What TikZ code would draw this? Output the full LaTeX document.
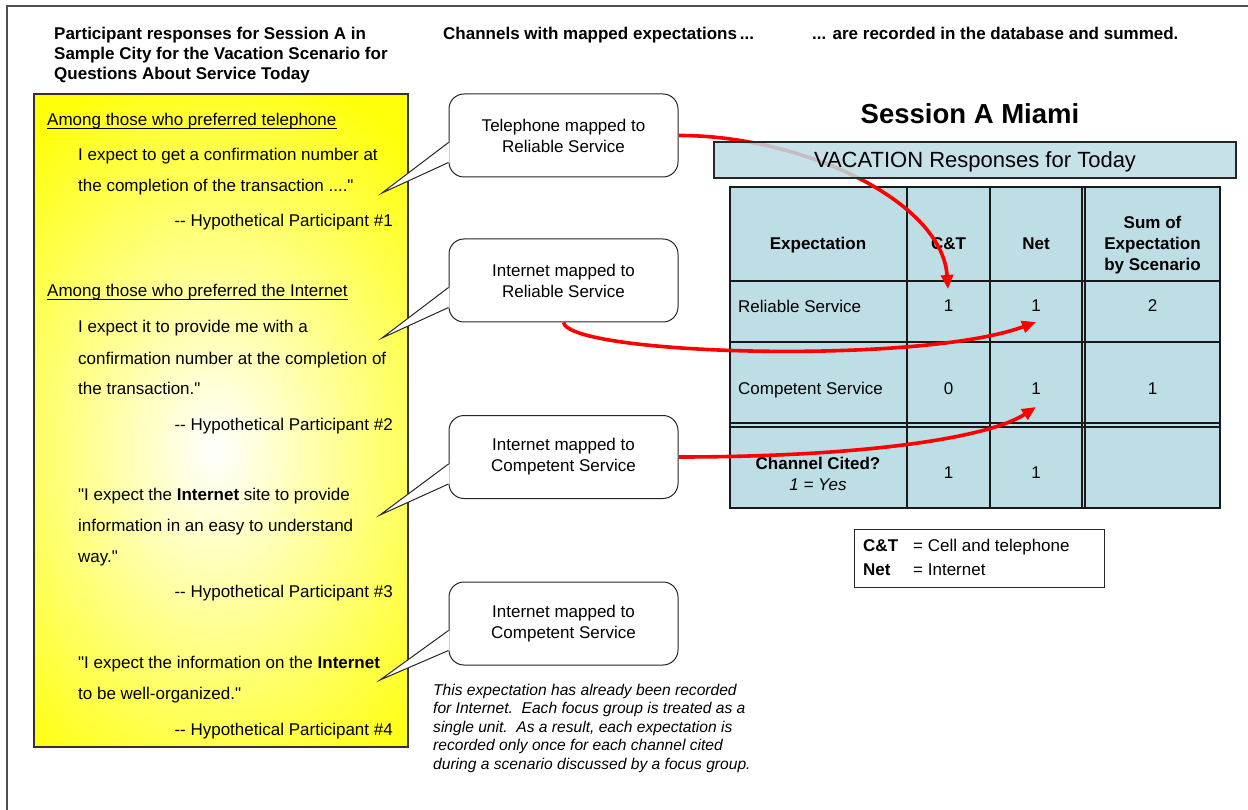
\documentclass[tikz,border=0pt]{standalone}
\usepackage{fontspec}
\setmainfont{Liberation Sans}[Ligatures=TeXOff]
\usetikzlibrary{arrows.meta,calc}
\newcommand\bsz{\fontsize{17}{21}\selectfont}
\newcommand\notesz{\fontsize{15.6}{18.5}\selectfont}
\definecolor{tblue}{RGB}{189,222,228}
\definecolor{ylw}{RGB}{255,255,10}
\definecolor{frame}{RGB}{80,80,80}
\begin{document}
\begin{tikzpicture}[x=1pt,y=-1pt,
  txt/.style={inner sep=0pt, anchor=base west, font=\bsz},
  txtr/.style={inner sep=0pt, anchor=base east, font=\bsz},
  txtc/.style={inner sep=0pt, anchor=base, font=\bsz},
  thd/.style={inner sep=0pt, anchor=base, font=\bsz\bfseries},
  hdr/.style={inner sep=0pt, anchor=base west, font=\bsz\bfseries},
  note/.style={inner sep=0pt, anchor=base west, font=\notesz\itshape},
  callout/.style={draw=black!85, line width=1pt, fill=white, rounded corners=15pt,
    minimum width=229pt, minimum height=83pt, inner sep=0pt, align=center, font=\bsz},
  tail/.style={draw=black!85, line width=1pt, line join=miter},
  redarrow/.style={draw=red, line width=3.6pt, -{Triangle[length=14pt,width=12pt]}},
  grid/.style={draw=black!90, line width=1.2pt},
]
\useasboundingbox (0,0) rectangle (1248,810);
\fill[white] (0,0) rectangle (1248,810);
% frame
\draw[frame, line width=2pt] (7,810) -- (7,6.5) -- (1248,6.5);

% headers
\node[hdr] (h1) at (54,40) {Participant responses for Session A in};
\node[hdr] (h2) at (54,60) {Sample City for the Vacation Scenario for};
\node[hdr] (h3) at (54,80) {Questions About Service Today};
\node[hdr] (h4) at (443,40) {Channels with mapped expectations\,...};
\node[hdr] (h5) at (812,40) {... are recorded in the database and summed.};

% yellow box
\begin{scope}
  \clip (34,94) rectangle (408,747);
  \fill[ylw] (34,94) rectangle (408,747);
  \shade[inner color=white, outer color=ylw] (215,450) ellipse [x radius=290, y radius=400];
\end{scope}
\draw[black!80, line width=1.2pt] (34,94) rectangle (408,747);

\node[txt] (q1a) at (47,126) {Among those who preferred telephone};
\draw[line width=0.8pt] ($(q1a.base west)+(0,2.5)$) -- ($(q1a.base east)+(0,2.5)$);
\node[txt] (q1b) at (78,161) {I expect to get a confirmation number at};
\node[txt] (q1c) at (78,192) {the completion of the transaction ...."};
\node[txtr] (q1d) at (393,227) {-- Hypothetical Participant \#1};
\node[txt] (q2a) at (47,297) {Among those who preferred the Internet};
\draw[line width=0.8pt] ($(q2a.base west)+(0,2.5)$) -- ($(q2a.base east)+(0,2.5)$);
\node[txt] (q2b) at (78,333) {I expect it to provide me with a};
\node[txt] (q2c) at (78,364) {confirmation number at the completion of};
\node[txt] (q2d) at (78,395) {the transaction."};
\node[txtr] (q2e) at (393,430) {-- Hypothetical Participant \#2};
\node[txt] (q3a) at (78,500) {"I expect the \textbf{Internet} site to provide};
\node[txt] (q3b) at (78,531) {information in an easy to understand};
\node[txt] (q3c) at (78,562) {way."};
\node[txtr] (q3d) at (393,597) {-- Hypothetical Participant \#3};
\node[txt] (q4a) at (78,668) {"I expect the information on the \textbf{Internet}};
\node[txt] (q4b) at (78,699) {to be well-organized."};
\node[txtr] (q4c) at (393,735) {-- Hypothetical Participant \#4};

% callouts
\node[callout] (c1) at (563.5,135.5) {Telephone mapped to\\Reliable Service};
\node[callout] (c2) at (563.5,280.5) {Internet mapped to\\Reliable Service};
\node[callout] (c3) at (563.5,457) {Internet mapped to\\Competent Service};
\node[callout] (c4) at (563.5,623.5) {Internet mapped to\\Competent Service};
\coordinate (t1) at (382,193);
\coordinate (t2) at (382,338);
\coordinate (t3) at (380,515);
\coordinate (t4) at (380,680);
\foreach \c/\t in {c1/t1,c2/t2,c3/t3,c4/t4}{
  \fill[white] ($(\c.west)+(1.2,7)$) -- (\t) -- ($(\c.west)+(1.2,27)$) -- cycle;
  \draw[tail] ($(\c.west)+(0,7)$) -- (\t) -- ($(\c.west)+(0,27)$);
}

% title
\node[inner sep=0pt, font=\fontsize{27.5}{30}\selectfont\bfseries] (title) at (970,113.5) {Session A Miami};

% table
\fill[tblue] (730,187) rectangle (1220,508);
\draw[grid] (730,187) rectangle (1220,508);
\draw[grid] (730,281) -- (1220,281);
\draw[grid] (730,342) -- (1220,342);
\draw[grid, line width=2pt] (730,423) -- (1220,423);
\draw[grid] (730,427) -- (1220,427);
\draw[grid] (907,187) -- (907,508);
\draw[grid] (990,187) -- (990,508);
\draw[grid] (1082,187) -- (1082,508);
\draw[grid] (1085,187) -- (1085,508);

\node[thd] (th1) at (818,250) {Expectation};
\node[thd] (th2) at (948.5,250) {C\&T};
\node[thd] (th3) at (1036,250) {Net};
\node[thd] (th4a) at (1152.5,229) {Sum of};
\node[thd] (th4b) at (1152.5,250) {Expectation};
\node[thd] (th4c) at (1152.5,271) {by Scenario};
\node[txt] (r1) at (738,313) {Reliable Service};
\node[txtc] (v11) at (948.5,312) {1};
\node[txtc] (v12) at (1036,312) {1};
\node[txtc] (v13) at (1152.5,312) {2};
\node[txt] (r2) at (738,395) {Competent Service};
\node[txtc] (v21) at (948.5,394) {0};
\node[txtc] (v22) at (1036,394) {1};
\node[txtc] (v23) at (1152.5,394) {1};
\node[thd] (r3) at (818,469) {Channel Cited?};
\node[txtc] (r3b) at (818,490) {\itshape 1 = Yes};
\node[txtc] (v31) at (948.5,478) {1};
\node[txtc] (v32) at (1036,478) {1};

% arrow 1 (partly under the banner)
\coordinate (e1) at (948,289);
\draw[redarrow] (c1.east) .. controls (800,135) and (942,200) .. (e1);

% banner
\node[draw=black!85, line width=1.2pt, fill=tblue, fill opacity=0.85,
  minimum width=522pt, minimum height=36pt, inner sep=0pt] (banner) at (975,160) {};
\node[inner sep=0pt, anchor=base, font=\fontsize{22}{26}\selectfont] (bt) at (975,168) {VACATION Responses for Today};

% arrows 2 and 3
\coordinate (e2) at (1036,322);
\coordinate (e3) at (1036,407);
\draw[redarrow] (c2.south) .. controls (570,355) and (920,365) .. (e2);
\draw[redarrow] (c3.east) .. controls (850,457) and (985,440) .. (e3);

% legend
\node[draw=black!85, line width=1pt, minimum width=250pt, minimum height=58pt, inner sep=0pt] (leg) at (979,558) {};
\node[hdr] (l1) at (863,551) {C\&T};
\node[txt] (l2) at (913,551) {= Cell and telephone};
\node[hdr] (l3) at (863,575) {Net};
\node[txt] (l4) at (913,575) {= Internet};

% note
\node[note] (n1) at (433,695) {This expectation has already been recorded};
\node[note] (n2) at (433,713.5) {for Internet.\ \ Each focus group is treated as a};
\node[note] (n3) at (433,732) {single unit.\ \ As a result, each expectation is};
\node[note] (n4) at (433,750.5) {recorded only once for each channel cited};
\node[note] (n5) at (433,769) {during a scenario discussed by a focus group.};
\end{tikzpicture}
\end{document}
